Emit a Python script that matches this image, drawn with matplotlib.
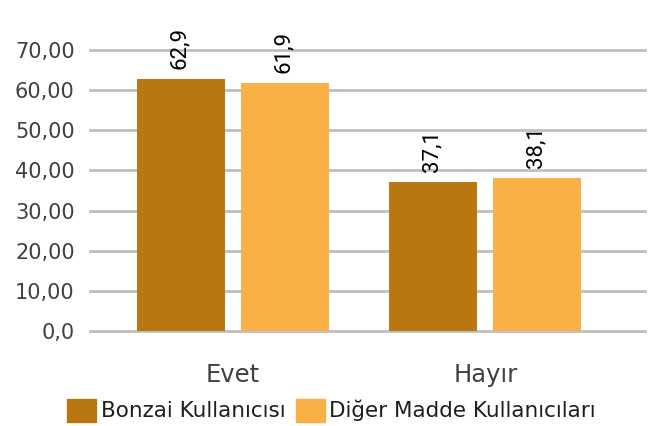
import matplotlib.pyplot as plt
from matplotlib.patches import Patch

# Data
categories = ["Evet", "Hayır"]
series_names = ["Bonzai Kullanıcısı", "Diğer Madde Kullanıcıları"]
bonzai = [62.9, 37.1]
diger = [61.9, 38.1]
yticks = [0, 10, 20, 30, 40, 50, 60, 70]
ytick_labels = ["0,0", "10,00", "20,00", "30,00", "40,00", "50,00", "60,00", "70,00"]

dark = "#B97711"
light = "#F9B045"
grid_col = "#BEC0C0"
text_col = "#3E4144"

fig = plt.figure(figsize=(6.49, 4.26), dpi=100)
ax = fig.add_axes([90 / 649, (426 - 331) / 426, 555 / 649, 281 / 426])

w = 0.3485
off = 0.206
x = list(range(len(categories)))
for vals, col, sign in [(bonzai, dark, -1), (diger, light, 1)]:
    xs = [i + sign * off for i in x]
    ax.bar(xs, vals, width=w, color=col, zorder=3)
    for xi, v in zip(xs, vals):
        ax.annotate(f"{v:.1f}".replace(".", ","), (xi, v), xytext=(-1, 7),
                    textcoords="offset points", rotation=90, ha="center",
                    va="bottom", fontsize=16, family="Roboto", color="black",
                    annotation_clip=False)

ax.set_xlim(-0.566, 1.632)
ax.set_ylim(0, 70)
ax.set_yticks(yticks)
ax.set_yticklabels(ytick_labels, fontsize=15, color=text_col)
ax.set_xticks(x)
ax.set_xticklabels(categories, fontsize=17.5, color=text_col)
ax.tick_params(axis="y", length=0, pad=11)
ax.tick_params(axis="x", length=0, pad=23)
ax.yaxis.grid(True, color=grid_col, linewidth=2, zorder=0)
ax.set_axisbelow(True)
for s in ax.spines.values():
    s.set_visible(False)
# keep edge gridlines fully visible
for gl in ax.get_ygridlines():
    gl.set_clip_on(False)

handles = [Patch(color=dark), Patch(color=light)]
fig.legend(handles, series_names, loc="center", bbox_to_anchor=(0.511, 0.037),
           ncol=2, frameon=False, fontsize=15.5, handlelength=1.35,
           handleheight=1.25, handletextpad=0.2, columnspacing=0.5,
           labelcolor="#1e1e1e")

fig.savefig("out.png", dpi=100)
